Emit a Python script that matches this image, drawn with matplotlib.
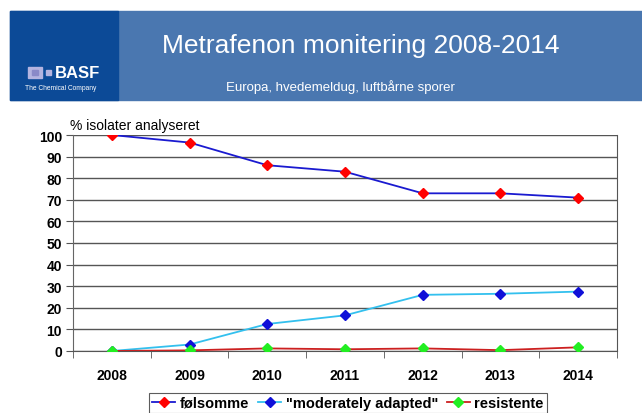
import matplotlib.pyplot as plt
from matplotlib.patches import Rectangle

plt.rcParams['font.family'] = ['Liberation Sans', 'DejaVu Sans']

# data
years = ['2008', '2009', '2010', '2011', '2012', '2013', '2014']
folsomme = [100, 96.5, 86, 83, 73, 73, 71]
moderately = [0, 3, 12.5, 16.5, 26, 26.5, 27.5]
resistente = [0, 0.3, 1.2, 0.8, 1.2, 0.4, 1.7]

fig = plt.figure(figsize=(6.42, 4.14), dpi=100)

# header band
W, H = 642, 414
fig.patches.append(Rectangle((10 / W, 1 - 101 / H), 632 / W, 89 / H,
                             transform=fig.transFigure, color='#4a77b0', zorder=0))
fig.patches.append(Rectangle((10 / W, 1 - 101 / H), 108 / W, 89 / H,
                             transform=fig.transFigure, color='#0c4a97', zorder=0))
fig.text(361 / W, 1 - 46 / H, 'Metrafenon monitering 2008-2014', color='white',
         fontsize=19, ha='center', va='center')
fig.text(340 / W, 1 - 87 / H, 'Europa, hvedemeldug, luftbårne sporer', color='white',
         fontsize=9.5, ha='center', va='center')
# BASF logo
fig.patches.append(Rectangle((28 / W, 1 - 79 / H), 14 / W, 11 / H,
                             transform=fig.transFigure, color='#b4b4e0', zorder=1))
fig.patches.append(Rectangle((32 / W, 1 - 76 / H), 6 / W, 5 / H,
                             transform=fig.transFigure, color='#8a8ac8', zorder=2))
fig.patches.append(Rectangle((46 / W, 1 - 76 / H), 5 / W, 5 / H,
                             transform=fig.transFigure, color='#b4b4e0', zorder=1))
fig.text(55 / W, 1 - 74 / H, 'BASF', color='white', fontsize=12,
         fontweight='bold', ha='left', va='center')
fig.text(25 / W, 1 - 88 / H, 'The Chemical Company', color='white', fontsize=4.8,
         ha='left', va='center')

ax = fig.add_axes([73 / W, 1 - 352 / H, 544 / W, 216 / H])
x = range(len(years))
ax.plot(x, folsomme, color='#1a1ad0', lw=1.3, marker='D', ms=5,
        mfc='red', mec='red', label='følsomme', zorder=3)
ax.plot(x, moderately, color='#33c0ee', lw=1.3, marker='D', ms=5,
        mfc='#1010d8', mec='#1010d8', label='"moderately adapted"', zorder=3)
ax.plot(x, resistente, color='#cc2020', lw=1.3, marker='D', ms=5,
        mfc='#22ee22', mec='#22ee22', label='resistente', zorder=3)

ax.set_xlim(-0.5, 6.5)
ax.set_ylim(0, 100)
ax.set_yticks(range(0, 101, 10))
ax.set_xticks(x)
ax.set_xticklabels(years)
ax.set_xticks([i - 0.5 for i in range(8)], minor=True)
ax.tick_params(axis='x', which='major', length=0, pad=12)
ax.tick_params(axis='x', which='minor', length=5, color='#555555', direction='out')
ax.tick_params(axis='y', length=5, color='#555555', pad=3)
for lbl in ax.get_xticklabels() + ax.get_yticklabels():
    lbl.set_fontweight('bold')
    lbl.set_fontsize(10)
ax.yaxis.grid(True, color='#555555', lw=1)
ax.set_axisbelow(True)
ax.spines['top'].set_visible(False)
ax.spines['left'].set_color('#666666')
ax.spines['bottom'].set_color('#555555')
ax.spines['right'].set_color('#555555')

fig.text(70 / W, 1 - 126 / H, '% isolater analyseret', fontsize=10, ha='left', va='center')

leg = fig.legend(loc='center', bbox_to_anchor=(348 / W, 1 - 404 / H), ncol=3,
                 frameon=True, fancybox=False, edgecolor='#333333', handlelength=1.6,
                 handletextpad=0.3, columnspacing=0.6, borderpad=0.2,
                 prop={'weight': 'bold', 'size': 10.5})
leg.get_frame().set_linewidth(0.8)

fig.savefig('out.png', dpi=100)
